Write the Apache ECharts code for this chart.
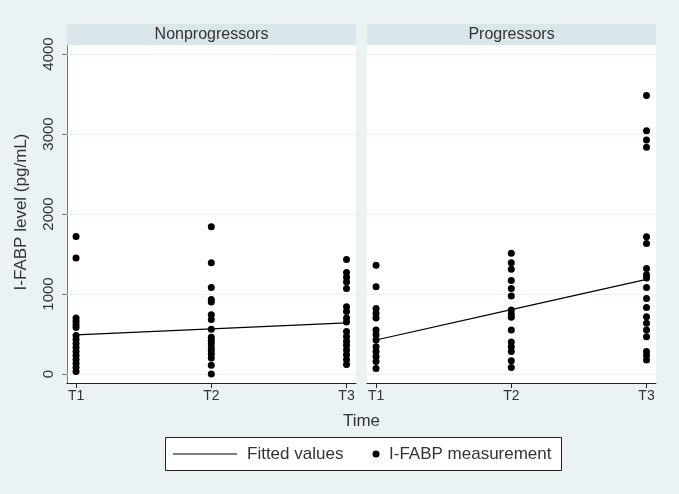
<!DOCTYPE html>
<html>
<head>
<meta charset="utf-8">
<script src="https://cdn.jsdelivr.net/npm/echarts@6/dist/echarts.min.js"></script>
<style>
html,body{margin:0;padding:0;background:#eaf2f3;}
#c{width:679px;height:494px;}
</style>
</head>
<body>
<div id="c"></div>
<script>
const categories = ['T1', 'T2', 'T3'];
const panels = ['Nonprogressors', 'Progressors'];
const yTicks = [0, 1000, 2000, 3000, 4000];

const nonT1 = [1720, 1450, 700, 660, 620, 580, 480, 430, 380, 330, 280, 230, 180, 130, 80, 30];
const nonT2 = [1840, 1390, 1080, 930, 900, 740, 680, 560, 460, 420, 380, 330, 290, 250, 200, 110, 0];
const nonT3 = [1430, 1270, 1210, 1150, 1070, 840, 780, 700, 650, 530, 470, 410, 360, 300, 240, 180, 120];
const progT1 = [1360, 1090, 820, 760, 700, 550, 490, 425, 340, 280, 220, 155, 70];
const progT2 = [1510, 1390, 1310, 1170, 1070, 975, 800, 750, 710, 550, 400, 340, 280, 165, 80];
const progT3 = [3480, 3040, 2925, 2835, 1715, 1630, 1320, 1240, 1200, 1080, 945, 830, 715, 635, 550, 465, 280, 230, 175];
const fitNon = [488, 563, 638];
const fitProg = [425, 804, 1183];

const FONT = '"Liberation Sans", Arial, sans-serif';

function pts(groups) {
  const out = [];
  groups.forEach((arr, i) => arr.forEach(v => out.push([i + 1, v])));
  return out;
}
function fitPts(arr) { return arr.map((v, i) => [i + 1, v]); }

const gridLeft = [67, 367];
const gridW = 289, gridTop = 45, gridH = 338;

const chart = echarts.init(document.getElementById('c'), null, {renderer: 'canvas'});

const grids = gridLeft.map(l => ({left: l, top: gridTop, width: gridW, height: gridH, show: true, backgroundColor: '#ffffff', borderWidth: 0}));

const xAxes = [0, 1].map(i => ({
  type: 'value', gridIndex: i, min: 0.933, max: 3.07,
  axisLine: {show: true, onZero: false, lineStyle: {color: '#222', width: 1}},
  axisTick: {show: true, customValues: [1, 2, 3], length: 5, lineStyle: {color: '#222'}},
  axisLabel: {customValues: [1, 2, 3], formatter: v => categories[Math.round(v) - 1], color: '#333', fontSize: 14, fontFamily: FONT, margin: 6},
  splitLine: {show: false}
}));

const yAxes = [0, 1].map(i => ({
  type: 'value', gridIndex: i, min: -112.5, max: 4112.5,
  axisLine: {show: i === 0, lineStyle: {color: '#6f7d84', width: 1}},
  axisTick: {show: i === 0, customValues: yTicks, length: 5, lineStyle: {color: '#6f7d84'}},
  axisLabel: {show: i === 0, customValues: yTicks, formatter: v => String(Math.round(v)), rotate: 90, color: '#333', fontSize: 15, fontFamily: FONT, margin: 11},
  splitLine: {show: false}
}));

function gridMark() {
  return {
    silent: true, symbol: 'none', label: {show: false}, z: 1,
    lineStyle: {color: '#eaf1f3', width: 1, type: 'solid'},
    emphasis: {disabled: true},
    data: yTicks.map(v => ({yAxis: v}))
  };
}

const series = [
  {type: 'line', name: 'grid0', xAxisIndex: 0, yAxisIndex: 0, data: [], markLine: gridMark(), z: 1},
  {type: 'line', name: 'grid1', xAxisIndex: 1, yAxisIndex: 1, data: [], markLine: gridMark(), z: 1},
  {type: 'scatter', name: 'I-FABP measurement', xAxisIndex: 0, yAxisIndex: 0, data: pts([nonT1, nonT2, nonT3]), symbolSize: 7, itemStyle: {color: '#000', opacity: 1}, z: 6},
  {type: 'scatter', name: 'I-FABP measurement', xAxisIndex: 1, yAxisIndex: 1, data: pts([progT1, progT2, progT3]), symbolSize: 7, itemStyle: {color: '#000', opacity: 1}, z: 6},
  {type: 'line', name: 'Fitted values', xAxisIndex: 0, yAxisIndex: 0, data: fitPts(fitNon), symbol: 'none', lineStyle: {color: '#000', width: 1.2}, z: 7},
  {type: 'line', name: 'Fitted values', xAxisIndex: 1, yAxisIndex: 1, data: fitPts(fitProg), symbol: 'none', lineStyle: {color: '#000', width: 1.2}, z: 7}
];

const graphic = [];
panels.forEach((p, i) => {
  graphic.push({type: 'rect', shape: {x: gridLeft[i], y: 24, width: gridW, height: 21}, style: {fill: '#d9e6eb'}, z: 10});
  graphic.push({type: 'text', x: gridLeft[i] + gridW / 2, y: 34.5, style: {text: p, font: '16px ' + FONT, fill: '#333', textAlign: 'center', textVerticalAlign: 'middle'}, z: 11});
});
graphic.push({type: 'text', x: 21, y: 212, rotation: Math.PI / 2, style: {text: 'I-FABP level (pg/mL)', font: '17px ' + FONT, fill: '#333', textAlign: 'center', textVerticalAlign: 'middle'}, z: 11});
graphic.push({type: 'text', x: 361.5, y: 421, style: {text: 'Time', font: '17px ' + FONT, fill: '#333', textAlign: 'center', textVerticalAlign: 'middle'}, z: 11});
// legend box
graphic.push({type: 'rect', shape: {x: 165.5, y: 437.5, width: 396, height: 33}, style: {fill: '#fff', stroke: '#222', lineWidth: 1}, z: 10});
graphic.push({type: 'line', shape: {x1: 173, y1: 454, x2: 237, y2: 454}, style: {stroke: '#000', lineWidth: 1.2}, z: 11});
graphic.push({type: 'text', x: 247, y: 454, style: {text: 'Fitted values', font: '17px ' + FONT, fill: '#333', textVerticalAlign: 'middle'}, z: 11});
graphic.push({type: 'circle', shape: {cx: 376, cy: 454, r: 3.5}, style: {fill: '#000'}, z: 11});
graphic.push({type: 'text', x: 389, y: 454, style: {text: 'I-FABP measurement', font: '17px ' + FONT, fill: '#333', textVerticalAlign: 'middle'}, z: 11});

chart.setOption({
  backgroundColor: '#eaf2f3',
  animation: false,
  grid: grids,
  xAxis: xAxes,
  yAxis: yAxes,
  series: series,
  graphic: graphic
});
</script>
</body>
</html>
